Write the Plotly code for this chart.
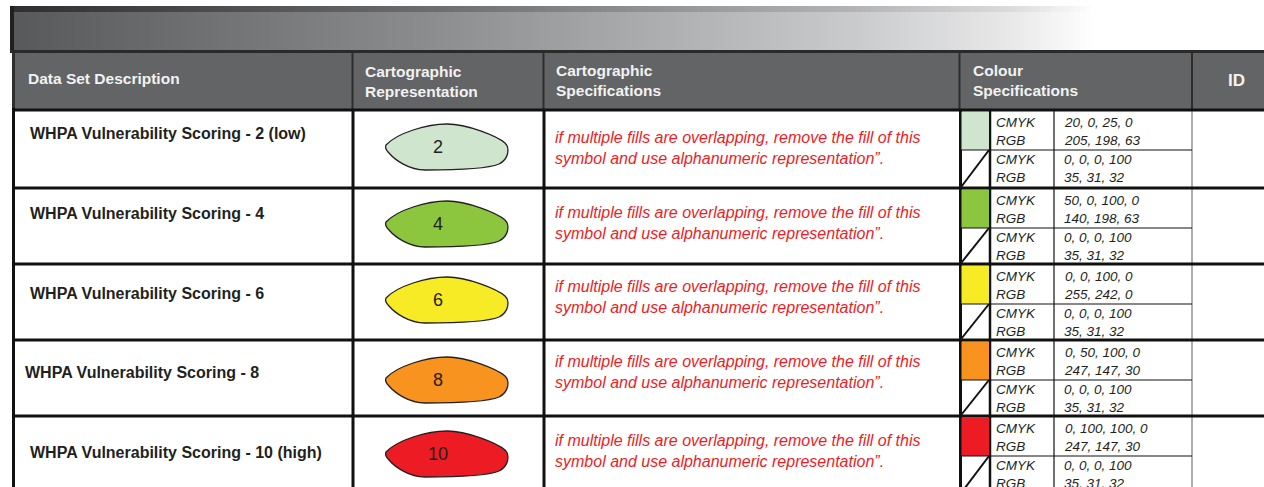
import numpy as np
import plotly.graph_objects as go

# ---------------- data ----------------
HEADERS = ["Data Set Description", "Cartographic<br>Representation",
           "Cartographic<br>Specifications", "Colour<br>Specifications", "ID"]
DESCRIPTIONS = ["WHPA Vulnerability Scoring - 2 (low)",
                "WHPA Vulnerability Scoring - 4",
                "WHPA Vulnerability Scoring - 6",
                "WHPA Vulnerability Scoring - 8",
                "WHPA Vulnerability Scoring - 10 (high)"]
SYMBOL_LABELS = ["2", "4", "6", "8", "10"]
FILL_COLORS = ["#cfe5cd", "#8cc63f", "#f6eb25", "#f7931e", "#ed1c24"]
SPEC_TEXT = ["if multiple fills are overlapping, remove the fill of this",
             "symbol and use alphanumeric representation\u201d."]
FILL_CMYK = ["20, 0, 25, 0", "50, 0, 100, 0", "0, 0, 100, 0", "0, 50, 100, 0", "0, 100, 100, 0"]
FILL_RGB = ["205, 198, 63", "140, 198, 63", "255, 242, 0", "247, 147, 30", "247, 147, 30"]
OUTLINE_CMYK = "0, 0, 0, 100"
OUTLINE_RGB = "35, 31, 32"

# ---------------- layout constants (pixels) ----------------
W, H = 1264, 487
ROW_TOPS = [110, 188, 264, 340, 416]
ROW_BOTTOMS = ROW_TOPS[1:] + [494]
DESC_X = [28, 28, 28, 23, 28]
DESC_Y = [133, 213, 293, 372, 452]
BLOB_CY = [147, 224, 300, 380, 454]
SPEC_Y = [148, 223, 297, 372, 451]
BLOB_CX = 447
FONT = "Liberation Sans, Arial, sans-serif"
DARK = "#231f20"

fig = go.Figure()

# banner gradient (heatmaps)
xe = np.linspace(10, W, 253)
xc = (xe[:-1] + xe[1:]) / 2
main_cs = [[0, "#58595b"], [0.33, "#8b8c8e"], [0.67, "#c9cacc"], [0.8, "#e9e9ea"],
           [0.865, "#ffffff"], [1, "#ffffff"]]
top_cs = [[0, "#2f2f31"], [0.33, "#6b6c6e"], [0.67, "#b2b3b5"], [0.8, "#dcdcdd"],
          [0.865, "#ffffff"], [1, "#ffffff"]]
for ys, cs in (([12, 51], main_cs), ([6, 12], top_cs)):
    fig.add_trace(go.Heatmap(x=xe, y=ys, z=[list(xc)], colorscale=cs, zmin=14, zmax=1264,
                             showscale=False, hoverinfo="skip"))

shapes = []
def rect(x0, y0, x1, y1, fill):
    shapes.append(dict(type="rect", x0=x0, y0=y0, x1=x1, y1=y1, fillcolor=fill,
                       line=dict(width=0), layer="above"))
def line(x0, y0, x1, y1, w, c="#111111"):
    shapes.append(dict(type="line", x0=x0, y0=y0, x1=x1, y1=y1,
                       line=dict(width=w, color=c), layer="above"))

# banner edges
rect(10, 6, 14, 53, DARK)
rect(10, 50, W, 53, "#2a2a2a")
# header
rect(14, 53, W, 109, "#636466")
rect(12, 53, 15, 110, "#2e2e2e")
for xv in [352.5, 543.5, 959.5, 1192]:
    line(xv, 53, xv, 109, 2, "#2d2d2d")

# body verticals
line(13.5, 108, 13.5, H, 3)
line(353, 110, 353, H, 3)
line(544, 110, 544, H, 3)
line(960.5, 110, 960.5, H, 3)
line(990, 110, 990, H, 2.5)
line(1054, 110, 1054, H, 1.2)
line(1192, 110, 1192, H, 1.2, "#7a7a7a")

annotations = []
def text(x, y, t, size, color=DARK, xanchor="left", bold=False, italic=False):
    if bold:
        t = "<b>" + t + "</b>"
    if italic:
        t = "<i>" + t + "</i>"
    annotations.append(dict(x=x, y=y, text=t, showarrow=False, xanchor=xanchor, yanchor="middle",
                            xref="x", yref="y", align="left",
                            font=dict(family=FONT, size=size, color=color)))

# header texts
hx = [26, 363, 554, 971]
hy = [78, 81, 80, 80]
for i in range(4):
    text(hx[i], hy[i], HEADERS[i], 15.5, "#f1f2f2", bold=True)
text(1236, 80, HEADERS[4], 17, "#f1f2f2", xanchor="center", bold=True)

# blob outline path (relative to centre)
BLOB = [("M", -61, -2), ("C", -50, -14, -20, -23, 0, -23), ("C", 20, -23, 50, -11, 58, -4),
        ("C", 63, 1, 62, 12, 52, 17), ("C", 40, 22, 5, 23, -22, 23),
        ("C", -38, 23, -52, 13, -58, 6), ("C", -62, 2, -62, 0, -61, -2)]

for i in range(5):
    top, bot = ROW_TOPS[i], ROW_BOTTOMS[i]
    sub = top + 40
    # description
    text(DESC_X[i], DESC_Y[i], DESCRIPTIONS[i], 16, bold=True)
    # blob symbol
    cy = BLOB_CY[i]
    parts = []
    for seg in BLOB:
        pts = seg[1:]
        coords = " ".join(f"{BLOB_CX + pts[k]},{cy + pts[k + 1]}" for k in range(0, len(pts), 2))
        parts.append(seg[0] + " " + coords)
    shapes.append(dict(type="path", path=" ".join(parts) + " Z", fillcolor=FILL_COLORS[i],
                       line=dict(color=DARK, width=1.3), layer="above"))
    text(438, cy, SYMBOL_LABELS[i], 18, xanchor="center")
    # specification text
    text(553, SPEC_Y[i], SPEC_TEXT[0] + "<br>" + SPEC_TEXT[1], 16, "#ed1c24", italic=True)
    # colour swatch & sub-row
    rect(961.5, top + 1.5, 989, sub, FILL_COLORS[i])
    line(960, sub, 1192, sub, 1.2)
    line(961.5, bot - 1.5, 989, sub, 2)
    text(994, top + 21, "CMYK<br>RGB", 13.5, italic=True)
    text(1062, top + 21, FILL_CMYK[i] + "<br>" + FILL_RGB[i], 13.5, italic=True)
    text(994, sub + 18, "CMYK<br>RGB", 13.5, italic=True)
    text(1062, sub + 18, OUTLINE_CMYK + "<br>" + OUTLINE_RGB, 13.5, italic=True)

# thick row lines
for yv in ROW_TOPS:
    line(12, yv, W, yv, 3)

fig.update_layout(
    width=W, height=H, margin=dict(l=0, r=0, t=0, b=0),
    paper_bgcolor="white", plot_bgcolor="white",
    xaxis=dict(range=[0, W], visible=False, fixedrange=True),
    yaxis=dict(range=[H, 0], visible=False, fixedrange=True),
    shapes=shapes, annotations=annotations, showlegend=False,
)
fig.write_html("out.html", config={"displayModeBar": False},
               post_script="document.body.style.margin='0';document.body.style.overflow='hidden';")
